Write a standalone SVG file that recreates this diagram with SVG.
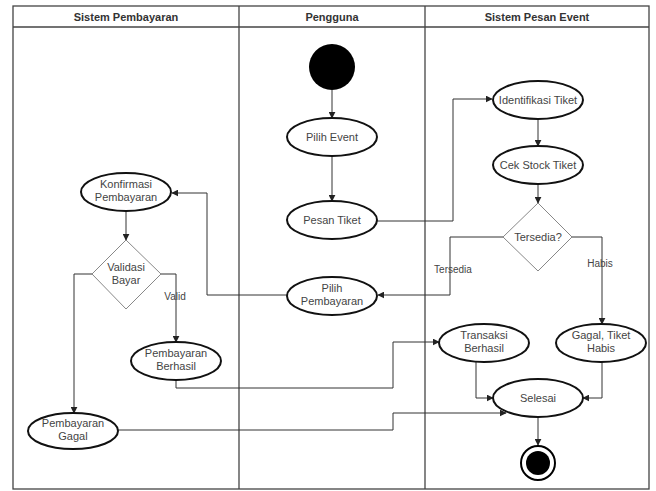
<svg xmlns="http://www.w3.org/2000/svg" width="656" height="491" viewBox="0 0 656 491">
<defs>
<marker id="arr" viewBox="0 0 10 10" refX="9" refY="5" markerWidth="7" markerHeight="7" orient="auto" markerUnits="userSpaceOnUse">
<path d="M0,0 L10,5 L0,10 Z" fill="#222"/>
</marker>
<style>
.lane{fill:none;stroke:#444;stroke-width:1.3}
.hdr{font-family:"Liberation Sans",Arial,sans-serif;font-size:11px;font-weight:bold;fill:#333;text-anchor:middle}
.act{fill:#fff;stroke:#111;stroke-width:2}
.dec{fill:#fff;stroke:#888;stroke-width:1}
.t{font-family:"Liberation Sans",Arial,sans-serif;font-size:11px;fill:#444;text-anchor:middle}
.lbl{font-family:"Liberation Sans",Arial,sans-serif;font-size:10px;fill:#444;text-anchor:middle}
.c{fill:none;stroke:#333;stroke-width:1}
</style>
</defs>
<rect width="656" height="491" fill="#fff"/>
<g id="lanes">
<rect class="lane" x="13" y="6" width="636" height="483"/>
<line class="lane" x1="13" y1="27" x2="649" y2="27"/>
<line class="lane" x1="239" y1="6" x2="239" y2="489"/>
<line class="lane" x1="425" y1="6" x2="425" y2="489"/>
<text class="hdr" x="126" y="21">Sistem Pembayaran</text>
<text class="hdr" x="332" y="21">Pengguna</text>
<text class="hdr" x="537" y="21">Sistem Pesan Event</text>
</g>
<g id="connectors">
<path class="c" d="M332,90 L332,118" marker-end="url(#arr)"/>
<path class="c" d="M332,156 L332,201" marker-end="url(#arr)"/>
<path class="c" d="M377,221 L453,221 L453,99 L492,99" marker-end="url(#arr)"/>
<path class="c" d="M538,119 L538,146" marker-end="url(#arr)"/>
<path class="c" d="M538,184 L538,203" marker-end="url(#arr)"/>
<path class="c" d="M503,237 L450,237 L450,295 L378,295" marker-end="url(#arr)"/>
<path class="c" d="M572,237 L602,237 L602,324" marker-end="url(#arr)"/>
<path class="c" d="M287,295 L207,295 L207,193 L172,193" marker-end="url(#arr)"/>
<path class="c" d="M126,211 L126,240" marker-end="url(#arr)"/>
<path class="c" d="M161,274 L176,274 L176,342" marker-end="url(#arr)"/>
<path class="c" d="M92,274 L74,274 L74,413" marker-end="url(#arr)"/>
<path class="c" d="M176,380 L176,388 L393,388 L393,342 L439,342" marker-end="url(#arr)"/>
<path class="c" d="M118,430 L393,430 L393,413 L506,413" marker-end="url(#arr)"/>
<path class="c" d="M476,362 L476,398 L493,398" marker-end="url(#arr)"/>
<path class="c" d="M602,362 L602,398 L583,398" marker-end="url(#arr)"/>
<path class="c" d="M538,417 L538,445" marker-end="url(#arr)"/>
<text class="lbl" x="175" y="300">Valid</text>
<text class="lbl" x="453" y="273">Tersedia</text>
<text class="lbl" x="600" y="267">Habis</text>
</g>
<g id="start"><circle cx="332" cy="67" r="23" fill="#000"/></g>
<g id="pilih-event"><ellipse class="act" cx="332" cy="137" rx="45" ry="19"/><text class="t" x="332" y="141">Pilih Event</text></g>
<g id="pesan-tiket"><ellipse class="act" cx="332" cy="220" rx="45" ry="19"/><text class="t" x="332" y="224">Pesan Tiket</text></g>
<g id="pilih-pembayaran"><ellipse class="act" cx="332" cy="296" rx="45" ry="19"/><text class="t" x="332" y="292">Pilih</text><text class="t" x="332" y="305">Pembayaran</text></g>
<g id="identifikasi"><ellipse class="act" cx="538" cy="100" rx="45" ry="19"/><text class="t" x="538" y="104">Identifikasi Tiket</text></g>
<g id="cek-stock"><ellipse class="act" cx="538" cy="165" rx="45" ry="19"/><text class="t" x="538" y="169">Cek Stock Tiket</text></g>
<g id="tersedia"><polygon class="dec" points="538,203 572,237 538,271 503,237"/><text class="t" x="538" y="241">Tersedia?</text></g>
<g id="konfirmasi"><ellipse class="act" cx="126" cy="192" rx="45" ry="19"/><text class="t" x="126" y="188">Konfirmasi</text><text class="t" x="126" y="201">Pembayaran</text></g>
<g id="validasi"><polygon class="dec" points="126,240 161,274 126,309 92,274"/><text class="t" x="126" y="271">Validasi</text><text class="t" x="126" y="284">Bayar</text></g>
<g id="pembayaran-berhasil"><ellipse class="act" cx="176" cy="361" rx="45" ry="19"/><text class="t" x="176" y="357">Pembayaran</text><text class="t" x="176" y="370">Berhasil</text></g>
<g id="pembayaran-gagal"><ellipse class="act" cx="73" cy="431" rx="45" ry="18"/><text class="t" x="73" y="427">Pembayaran</text><text class="t" x="73" y="440">Gagal</text></g>
<g id="transaksi-berhasil"><ellipse class="act" cx="484" cy="343" rx="45" ry="19"/><text class="t" x="484" y="339">Transaksi</text><text class="t" x="484" y="352">Berhasil</text></g>
<g id="gagal-habis"><ellipse class="act" cx="601" cy="343" rx="45" ry="19"/><text class="t" x="601" y="339">Gagal, Tiket</text><text class="t" x="601" y="352">Habis</text></g>
<g id="selesai"><ellipse class="act" cx="538" cy="398" rx="45" ry="19"/><text class="t" x="538" y="402">Selesai</text></g>
<g id="end"><circle cx="538" cy="463" r="17" fill="#fff" stroke="#000" stroke-width="2"/><circle cx="538" cy="463" r="12" fill="#000"/></g>
</svg>
